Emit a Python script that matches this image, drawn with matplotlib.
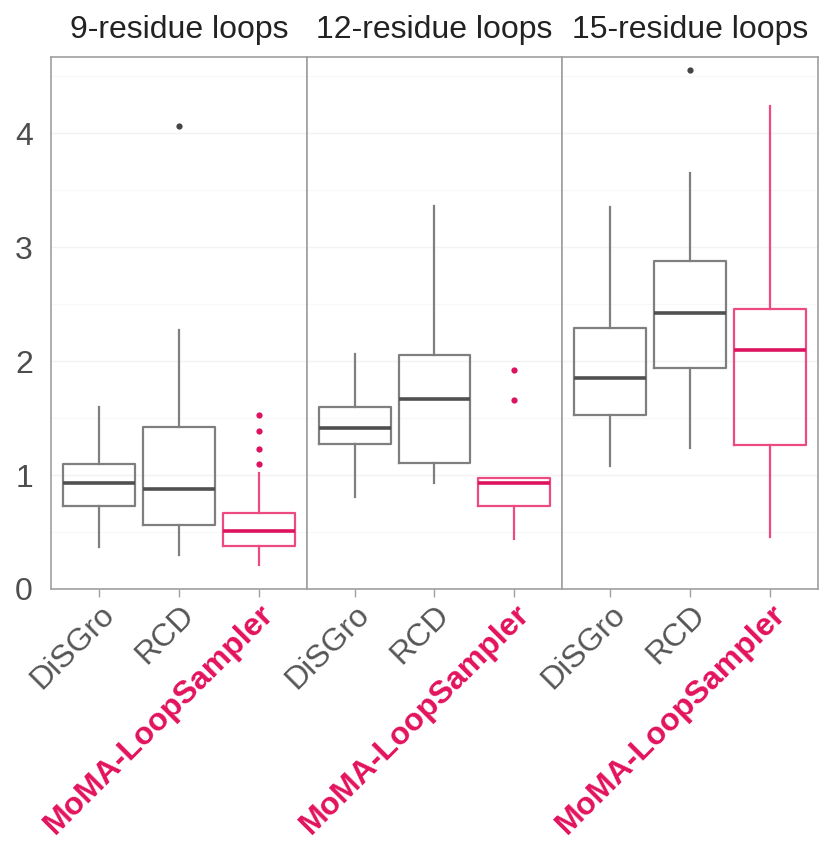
import matplotlib
matplotlib.use("Agg")
import matplotlib.pyplot as plt
from matplotlib.ticker import MultipleLocator

plt.rcParams['font.family'] = ['Liberation Sans', 'DejaVu Sans']

# Facets and methods
panels = ["9-residue loops", "12-residue loops", "15-residue loops"]
methods = ["DiSGro", "RCD", "MoMA-LoopSampler"]

# Box statistics per facet, one entry per method: (whisker low, Q1, median, Q3, whisker high)
stats_9 = [(0.37, 0.73, 0.93, 1.10, 1.60),
           (0.30, 0.56, 0.88, 1.42, 2.27),
           (0.21, 0.38, 0.51, 0.67, 1.02)]
stats_12 = [(0.81, 1.27, 1.41, 1.60, 2.06),
            (0.93, 1.11, 1.67, 2.05, 3.36),
            (0.44, 0.73, 0.93, 0.97, 0.97)]
stats_15 = [(1.08, 1.53, 1.85, 2.29, 3.35),
            (1.24, 1.94, 2.42, 2.88, 3.65),
            (0.46, 1.26, 2.10, 2.46, 4.24)]

# Outlying points per facet and method
outliers_9 = [[], [4.06], [1.10, 1.23, 1.39, 1.53]]
outliers_12 = [[], [], [1.66, 1.92]]
outliers_15 = [[], [4.56], []]

all_stats = [stats_9, stats_12, stats_15]
all_outliers = [outliers_9, outliers_12, outliers_15]

GRAY_BOX = "#7f7f7f"
GRAY_MED = "#505050"
GRAY_PT = "#454545"
PINK_BOX = "#ec4a80"
PINK_MED = "#dc1460"
PINK_TXT = "#e3125d"
FRAME = "#a0a0a0"

W, H = 819, 843
fig = plt.figure(figsize=(W / 100, H / 100), dpi=100)

left_px, right_px, top_px, bottom_px = 51, 818, 57, 589
pw = (right_px - left_px) / 3

for i, (title, stats, outl) in enumerate(zip(panels, all_stats, all_outliers)):
    ax = fig.add_axes([(left_px + i * pw) / W, 1 - bottom_px / H,
                       pw / W, (bottom_px - top_px) / H])
    bxp_stats = []
    for m, (lo, q1, med, q3, hi), fl in zip(methods, stats, outl):
        bxp_stats.append(dict(label=m, whislo=lo, q1=q1, med=med, q3=q3,
                              whishi=hi, fliers=fl))
    arts = ax.bxp(bxp_stats, positions=[1, 2, 3], widths=0.9,
                  showcaps=False, patch_artist=False,
                  flierprops=dict(marker='o', markersize=4.5,
                                  markeredgewidth=0),
                  manage_ticks=False, zorder=3)
    for j in range(3):
        is_pink = methods[j] == "MoMA-LoopSampler"
        box_c = PINK_BOX if is_pink else GRAY_BOX
        med_c = PINK_MED if is_pink else GRAY_MED
        arts['boxes'][j].set(color=box_c, linewidth=1.6)
        arts['medians'][j].set(color=med_c, linewidth=2.6)
        for w in arts['whiskers'][2 * j:2 * j + 2]:
            w.set(color=box_c, linewidth=1.6)
        arts['fliers'][j].set(markerfacecolor=PINK_MED if is_pink else GRAY_PT)

    ax.set_xlim(0.4, 3.6)
    ax.set_ylim(0, 4.67)
    ax.yaxis.set_major_locator(MultipleLocator(1))
    ax.yaxis.set_minor_locator(MultipleLocator(0.5))
    ax.grid(True, which='major', axis='y', color='#f2f2f2', linewidth=1.0, zorder=0)
    ax.grid(True, which='minor', axis='y', color='#f8f8f8', linewidth=0.8, zorder=0)
    ax.set_axisbelow(True)

    for sp in ax.spines.values():
        sp.set_color(FRAME)
        sp.set_linewidth(1.2)

    ax.set_xticks([1, 2, 3])
    ax.set_xticklabels(methods, rotation=45, ha='right', va='top',
                       rotation_mode='anchor', fontsize=23)
    for lab in ax.get_xticklabels():
        if lab.get_text() == "MoMA-LoopSampler":
            lab.set_color(PINK_TXT)
            lab.set_fontweight('bold')
        else:
            lab.set_color('#555555')
    ax.tick_params(axis='x', length=5.5, width=1.0, color=FRAME, pad=2)
    ax.tick_params(axis='y', which='both', length=0, labelsize=23,
                   labelcolor='#4d4d4d', pad=13)
    if i > 0:
        ax.tick_params(axis='y', labelleft=False)

    ax.set_title(title, fontsize=23, color='#222222', pad=14)

fig.savefig("out.png", dpi=100)
